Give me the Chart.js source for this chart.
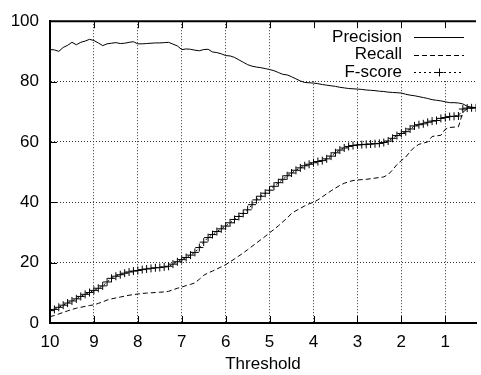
<!DOCTYPE html>
<html lang="en">
<head>
    <meta charset="UTF-8">
    <title>Precision / Recall / F-score</title>
    <script src="https://cdn.jsdelivr.net/npm/chart.js"></script>
    <style>
        body { margin: 0; background: #fff; }
        #wrap { width: 481px; height: 375px; }
    </style>
</head>
<body>
    <div id="wrap"><canvas id="prChart" width="481" height="375"></canvas></div>

    <script>
        // thresholds, from 10 down to 0.3
        const thresholds = [
            10.0, 9.9, 9.8, 9.7, 9.6, 9.5, 9.4, 9.3, 9.2, 9.1,
            9.0, 8.9, 8.8, 8.7, 8.6, 8.5, 8.4, 8.3, 8.2, 8.1,
            8.0, 7.9, 7.8, 7.7, 7.6, 7.5, 7.4, 7.3, 7.2, 7.1,
            7.0, 6.9, 6.8, 6.7, 6.6, 6.5, 6.4, 6.3, 6.2, 6.1,
            6.0, 5.9, 5.8, 5.7, 5.6, 5.5, 5.4, 5.3, 5.2, 5.1,
            5.0, 4.9, 4.8, 4.7, 4.6, 4.5, 4.4, 4.3, 4.2, 4.1,
            4.0, 3.9, 3.8, 3.7, 3.6, 3.5, 3.4, 3.3, 3.2, 3.1,
            3.0, 2.9, 2.8, 2.7, 2.6, 2.5, 2.4, 2.3, 2.2, 2.1,
            2.0, 1.9, 1.8, 1.7, 1.6, 1.5, 1.4, 1.3, 1.2, 1.1,
            1.0, 0.9, 0.8, 0.7, 0.6, 0.5, 0.4, 0.3
        ];

        const precision = [
            90.6, 90.5, 90.0, 91.3, 92.0, 93.0, 92.2, 93.0, 93.4, 94.0,
            93.6, 92.8, 91.9, 92.5, 92.7, 92.9, 92.6, 92.7, 93.0, 93.2,
            92.5, 92.5, 92.6, 92.7, 92.8, 92.8, 92.9, 93.0, 92.4, 91.8,
            90.6, 90.8, 90.7, 90.4, 90.2, 90.6, 90.7, 89.8, 89.6, 89.2,
            88.6, 88.5, 88.0, 87.2, 86.4, 85.6, 85.1, 84.8, 84.6, 84.3,
            84.0, 83.6, 83.0, 82.4, 82.2, 81.6, 80.9, 80.2, 79.7, 79.6,
            79.5, 79.3, 79.0, 78.8, 78.6, 78.4, 78.1, 77.9, 77.7, 77.6,
            77.5, 77.4, 77.2, 77.1, 77.0, 76.8, 76.7, 76.5, 76.4, 76.3,
            76.2, 75.8, 75.5, 75.3, 75.0, 74.7, 74.4, 74.0, 73.8, 73.6,
            73.3, 73.0, 73.0, 72.9, 72.6, 71.8, 71.5, 71.4
        ];

        const recall = [
            2.1, 2.5, 3.0, 3.5, 4.0, 4.5, 4.9, 5.2, 5.5, 5.8,
            6.0, 6.5, 7.0, 7.6, 8.0, 8.3, 8.6, 8.9, 9.2, 9.4,
            9.6, 9.8, 9.9, 10.0, 10.1, 10.2, 10.3, 10.5, 11.0, 11.5,
            11.9, 12.4, 12.8, 13.3, 14.5, 15.8, 16.6, 17.2, 17.9, 18.6,
            19.3, 20.3, 21.2, 22.2, 23.2, 24.3, 25.4, 26.5, 27.6, 28.7,
            29.9, 31.0, 32.2, 33.5, 34.8, 36.3, 37.2, 38.0, 38.8, 39.5,
            40.0, 40.8, 41.8, 42.8, 43.8, 44.7, 45.6, 46.3, 46.8, 47.2,
            47.4, 47.5, 47.6, 47.8, 48.0, 48.2, 48.4, 49.2, 50.7, 52.5,
            53.8, 55.0, 56.8, 58.3, 59.2, 59.6, 60.0, 61.8, 62.0, 62.2,
            64.2, 64.8, 64.9, 65.0, 69.8, 71.0, 71.2, 71.3
        ];

        const fscore = [
            4.1, 4.5, 5.2, 5.9, 6.6, 7.3, 8.0, 8.8, 9.5, 10.1,
            10.8, 11.5, 12.3, 13.6, 14.8, 15.5, 16.0, 16.5, 16.9, 17.2,
            17.4, 17.7, 17.9, 18.1, 18.3, 18.4, 18.6, 18.8, 19.5, 20.3,
            21.0, 21.7, 22.5, 23.4, 25.0, 26.8, 28.3, 29.3, 30.3, 31.2,
            32.1, 33.2, 34.3, 35.3, 36.3, 37.5, 39.2, 40.8, 42.0, 43.0,
            44.0, 45.3, 46.5, 47.6, 48.8, 49.7, 50.6, 51.4, 52.1, 52.6,
            53.1, 53.5, 53.8, 54.4, 55.3, 56.4, 57.3, 58.0, 58.5, 58.8,
            59.0, 59.1, 59.2, 59.3, 59.4, 59.5, 59.8, 60.3, 61.2, 62.1,
            62.8, 63.4, 64.3, 65.3, 65.7, 66.0, 66.5, 66.9, 67.1, 67.8,
            68.1, 68.4, 68.5, 68.6, 70.9, 71.2, 71.3, 71.3
        ];

        const xTicks = [1, 2, 3, 4, 5, 6, 7, 8, 9, 10];
        const yTicks = [0, 20, 40, 60, 80, 100];
        const seriesNames = ['Precision', 'Recall', 'F-score'];

        const FONT = "'Liberation Sans', Arial, sans-serif";

        const toPoints = (vals) => thresholds.map((t, i) => ({ x: t, y: vals[i] }));

        // gnuplot style: ticks pointing inward, top border, legend in the top right
        const gnuplotFrame = {
            id: 'gnuplotFrame',
            beforeDatasetsDraw(chart) {
                const { ctx, chartArea: a } = chart;
                // legend box hides the grid behind it
                ctx.save();
                ctx.fillStyle = '#fff';
                ctx.fillRect(a.right - 172, a.top, 172, 59);
                ctx.restore();
            },
            afterDraw(chart) {
                const { ctx, chartArea: a, scales: { x, y } } = chart;
                ctx.save();
                ctx.strokeStyle = '#000';
                ctx.lineWidth = 1;
                ctx.beginPath();
                y.ticks.forEach(t => {
                    const py = Math.round(y.getPixelForValue(t.value)) + 0.5;
                    ctx.moveTo(a.left, py);
                    ctx.lineTo(a.left + 7, py);
                });
                x.ticks.forEach(t => {
                    const px = Math.round(x.getPixelForValue(t.value)) + 0.5;
                    ctx.moveTo(px, a.bottom);
                    ctx.lineTo(px, a.bottom - 7);
                    ctx.moveTo(px, a.top);
                    ctx.lineTo(px, a.top + 7);
                });
                ctx.stroke();

                ctx.lineWidth = 2;
                ctx.beginPath();
                ctx.moveTo(a.left - 1, a.top);
                ctx.lineTo(a.right, a.top);
                ctx.stroke();

                // legend
                ctx.font = '17px ' + FONT;
                ctx.fillStyle = '#000';
                ctx.textAlign = 'right';
                ctx.textBaseline = 'middle';
                const textRight = a.right - 74;
                const x0 = a.right - 62, x1 = a.right - 12;
                chart.data.datasets.forEach((ds, i) => {
                    const py = a.top + 16 + i * 17.5;
                    ctx.fillText(ds.label, textRight, py);
                    ctx.lineWidth = 1;
                    ctx.setLineDash(ds.borderDash || []);
                    ctx.beginPath();
                    ctx.moveTo(x0, Math.round(py) + 0.5);
                    ctx.lineTo(x1, Math.round(py) + 0.5);
                    ctx.stroke();
                    ctx.setLineDash([]);
                    if (ds.pointRadius > 0) {
                        const cx = Math.round((x0 + x1) / 2) + 0.5, cy = Math.round(py) + 0.5;
                        ctx.beginPath();
                        ctx.moveTo(cx - 4, cy); ctx.lineTo(cx + 4, cy);
                        ctx.moveTo(cx, cy - 4); ctx.lineTo(cx, cy + 4);
                        ctx.stroke();
                    }
                });
                ctx.restore();
            }
        };

        new Chart(document.getElementById('prChart'), {
            type: 'line',
            data: {
                datasets: [
                    {
                        label: seriesNames[0],
                        data: toPoints(precision),
                        borderColor: '#000',
                        borderWidth: 1,
                        pointRadius: 0,
                        tension: 0,
                        order: 2
                    },
                    {
                        label: seriesNames[1],
                        data: toPoints(recall),
                        borderColor: '#000',
                        borderWidth: 1,
                        borderDash: [5, 3],
                        pointRadius: 0,
                        tension: 0,
                        order: 1
                    },
                    {
                        label: seriesNames[2],
                        data: toPoints(fscore),
                        borderColor: '#000',
                        borderWidth: 1,
                        borderDash: [2, 3],
                        pointStyle: 'cross',
                        pointRadius: 4,
                        pointBorderWidth: 1,
                        pointBorderColor: '#000',
                        tension: 0,
                        order: 0
                    }
                ]
            },
            options: {
                responsive: false,
                animation: false,
                events: [],
                layout: { padding: { top: 18, right: 0, bottom: 0, left: 0 } },
                plugins: {
                    legend: { display: false },
                    tooltip: { enabled: false }
                },
                scales: {
                    x: {
                        type: 'linear',
                        reverse: true,
                        min: 0.3,
                        max: 10,
                        afterBuildTicks: (scale) => { scale.ticks = xTicks.map(v => ({ value: v })); },
                        afterFit: (scale) => { scale.height = 52; },
                        ticks: {
                            color: '#000',
                            padding: 9,
                            maxRotation: 0,
                            font: { family: FONT, size: 17 }
                        },
                        grid: {
                            color: '#333',
                            lineWidth: 1,
                            drawTicks: false
                        },
                        border: { color: '#000', width: 2, dash: [1, 2], dashOffset: 0 },
                        title: {
                            display: true,
                            text: 'Threshold',
                            color: '#000',
                            padding: { top: 0, bottom: 0 },
                            font: { family: FONT, size: 17 }
                        }
                    },
                    y: {
                        min: 0,
                        max: 100,
                        afterBuildTicks: (scale) => { scale.ticks = yTicks.map(v => ({ value: v })); },
                        afterFit: (scale) => { scale.width = 50; },
                        ticks: {
                            color: '#000',
                            padding: 11,
                            font: { family: FONT, size: 17 }
                        },
                        grid: {
                            color: '#333',
                            lineWidth: 1,
                            drawTicks: false
                        },
                        border: { color: '#000', width: 2, dash: [1, 2] }
                    }
                }
            },
            plugins: [gnuplotFrame]
        });
    </script>
</body>
</html>
